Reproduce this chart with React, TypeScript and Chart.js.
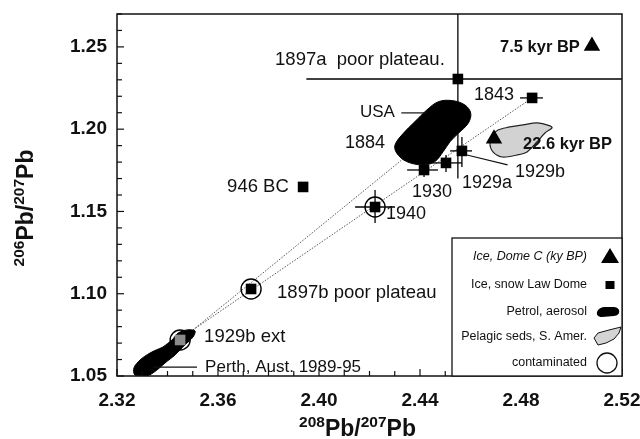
import React, { useEffect, useRef } from "react";
import { Chart, registerables } from "chart.js";

Chart.register(...registerables);

// ---------- axis ----------
const xMin = 2.32;
const xMax = 2.52;
const yMin = 1.05;
const yMax = 1.27;
const tickStep = 0.01;

// ---------- Ice, snow Law Dome (squares) ----------
const lawDomeNames = ["1897a", "1843", "1929b", "1929a", "1930", "946 BC", "1940", "1897b", "1929b ext"];
const lawDomeX = [2.455, 2.4844, 2.4566, 2.4503, 2.4416, 2.3937, 2.4222, 2.3731, 2.345];
const lawDomeY = [1.2305, 1.219, 1.1868, 1.1795, 1.1752, 1.1649, 1.1527, 1.1029, 1.0719];
const lawDomeContaminated = [false, false, false, false, false, false, true, true, true];
const lawDomeXLow = [2.395, 2.4796, 2.4519, 2.4448, 2.4349, null, 2.4143, null, null];
const lawDomeXHigh = [2.52, 2.4887, 2.4606, 2.4566, 2.4471, null, 2.4301, null, null];
const lawDomeYLow = [1.17, null, 1.177, 1.174, 1.171, null, 1.143, null, null];
const lawDomeYHigh = [1.27, null, 1.1953, 1.1843, 1.1795, null, 1.1631, null, null];

// ---------- Ice, Dome C (triangles) ----------
const domeCNames = ["7.5 kyr BP", "22.6 kyr BP"];
const domeCX = [2.5081, 2.4693];
const domeCY = [1.2506, 1.1942];

// ---------- Petrol, aerosol (USA field) ----------
const usaX = [2.438, 2.4427, 2.4473, 2.4526, 2.4578, 2.4601, 2.4591, 2.4552, 2.4519, 2.4492, 2.4459, 2.4413, 2.4347, 2.4308, 2.4301, 2.4334, 2.438];
const usaY = [1.2046, 1.2117, 1.2167, 1.2174, 1.2147, 1.2097, 1.2036, 1.1975, 1.1924, 1.1864, 1.1803, 1.1783, 1.1803, 1.1854, 1.1904, 1.1975, 1.2046];

// ---------- Petrol, aerosol (Perth field) ----------
const perthX = [2.3382, 2.3331, 2.3291, 2.3267, 2.3271, 2.3319, 2.3358, 2.339, 2.343, 2.3469, 2.3501, 2.3509, 2.3477, 2.3442, 2.3418, 2.3382];
const perthY = [1.0676, 1.064, 1.0597, 1.0549, 1.0506, 1.05, 1.0536, 1.0579, 1.0628, 1.0689, 1.0737, 1.0774, 1.078, 1.0761, 1.0719, 1.0676];

// ---------- Pelagic seds, S. Amer. ----------
const pelagicX = [2.4756, 2.4808, 2.4863, 2.4915, 2.4923, 2.4895, 2.4863, 2.4824, 2.4784, 2.4725, 2.4689, 2.4677, 2.4689, 2.4709, 2.4756];
const pelagicY = [1.2014, 1.2026, 1.2038, 1.202, 1.2008, 1.1977, 1.1922, 1.1862, 1.1843, 1.1831, 1.1862, 1.1916, 1.1965, 1.1995, 1.2014];

// ---------- mixing lines ----------
const mixLineAX = [2.3501, 2.4844];
const mixLineAY = [1.078, 1.219];
const mixLineBX = [2.3501, 2.4459];
const mixLineBY = [1.078, 1.1977];

// ---------- legend ----------
const legendLabels = ["Ice, Dome C (ky BP)", "Ice, snow Law Dome", "Petrol, aerosol", "Pelagic seds, S. Amer.", "contaminated"];

const FONT = "'Liberation Sans', Arial, Helvetica, sans-serif";

// annotation labels (anchored in data coordinates: left edge, vertical middle)
const annotations = [
  { text: "1897a  poor plateau.", x: 2.3826, y: 1.2421, size: 18.5, bold: false },
  { text: "7.5 kyr BP", x: 2.4717, y: 1.2497, size: 16.5, bold: true },
  { text: "1843", x: 2.4614, y: 1.2208, size: 18, bold: false },
  { text: "USA", x: 2.4162, y: 1.2105, size: 17, bold: false },
  { text: "1884", x: 2.4103, y: 1.1916, size: 18, bold: false },
  { text: "22.6 kyr BP", x: 2.4808, y: 1.191, size: 16.5, bold: true },
  { text: "1929b", x: 2.4776, y: 1.174, size: 18, bold: false },
  { text: "1929a", x: 2.4566, y: 1.1673, size: 18, bold: false },
  { text: "1930", x: 2.4368, y: 1.1619, size: 18, bold: false },
  { text: "946 BC", x: 2.3636, y: 1.1649, size: 18.5, bold: false },
  { text: "1940", x: 2.4265, y: 1.1485, size: 18, bold: false },
  { text: "1897b poor plateau", x: 2.3834, y: 1.1005, size: 18.5, bold: false },
  { text: "1929b ext", x: 2.3545, y: 1.0737, size: 18.5, bold: false },
  { text: "Perth, Aust. 1989-95", x: 2.3549, y: 1.0555, size: 17, bold: false },
];
const leaders = [
  { x1: 2.4326, y1: 1.2099, x2: 2.4425, y2: 1.2099 },
  { x1: 2.4586, y1: 1.1843, x2: 2.4747, y2: 1.1783 },
  { x1: 2.3343, y1: 1.0554, x2: 2.3517, y2: 1.0554 },
];

const pts = (xs: number[], ys: number[]) => xs.map((x, i) => ({ x, y: ys[i] }));

const framePlugin = {
  id: "frameTicks",
  afterDraw(chart: any) {
    const ctx = chart.ctx;
    const a = chart.chartArea;
    ctx.save();
    ctx.strokeStyle = "#111";
    ctx.lineWidth = 1.5;
    ctx.strokeRect(a.left, a.top, a.right - a.left, a.bottom - a.top);
    ctx.lineWidth = 1.2;
    const xs = chart.scales.x;
    xs.ticks.forEach((t: any) => {
      const major = Math.round(t.value * 100) % 4 === 0;
      const p = xs.getPixelForValue(t.value);
      ctx.beginPath();
      ctx.moveTo(p, a.bottom);
      ctx.lineTo(p, a.bottom - (major ? 7 : 5));
      ctx.stroke();
    });
    const ys = chart.scales.y;
    ys.ticks.forEach((t: any) => {
      const major = Math.round(t.value * 100) % 5 === 0;
      const p = ys.getPixelForValue(t.value);
      ctx.beginPath();
      ctx.moveTo(a.left, p);
      ctx.lineTo(a.left + (major ? 7 : 5), p);
      ctx.stroke();
    });
    ctx.restore();
  },
};

const errorBarPlugin = {
  id: "errorBars",
  afterDatasetsDraw(chart: any) {
    const ctx = chart.ctx;
    const a = chart.chartArea;
    const xs = chart.scales.x;
    const ys = chart.scales.y;
    ctx.save();
    ctx.beginPath();
    ctx.rect(a.left, a.top, a.right - a.left, a.bottom - a.top);
    ctx.clip();
    ctx.strokeStyle = "#000";
    ctx.lineWidth = 1.3;
    lawDomeX.forEach((x, i) => {
      const px = xs.getPixelForValue(x);
      const py = ys.getPixelForValue(lawDomeY[i]);
      const xl = lawDomeXLow[i];
      const xh = lawDomeXHigh[i];
      const yl = lawDomeYLow[i];
      const yh = lawDomeYHigh[i];
      if (xl !== null && xh !== null) {
        ctx.beginPath();
        ctx.moveTo(xs.getPixelForValue(xl), py);
        ctx.lineTo(xs.getPixelForValue(xh), py);
        ctx.stroke();
      }
      if (yl !== null && yh !== null) {
        ctx.beginPath();
        ctx.moveTo(px, ys.getPixelForValue(yl));
        ctx.lineTo(px, ys.getPixelForValue(yh));
        ctx.stroke();
      }
    });
    ctx.restore();
  },
};

const annotationPlugin = {
  id: "annotations",
  afterDraw(chart: any) {
    const ctx = chart.ctx;
    const xs = chart.scales.x;
    const ys = chart.scales.y;
    ctx.save();
    ctx.fillStyle = "#111";
    ctx.textAlign = "left";
    ctx.textBaseline = "middle";
    annotations.forEach((an) => {
      ctx.font = `${an.bold ? "bold " : ""}${an.size}px ${FONT}`;
      ctx.fillText(an.text, xs.getPixelForValue(an.x), ys.getPixelForValue(an.y));
    });
    ctx.strokeStyle = "#111";
    ctx.lineWidth = 1.2;
    leaders.forEach((l) => {
      ctx.beginPath();
      ctx.moveTo(xs.getPixelForValue(l.x1), ys.getPixelForValue(l.y1));
      ctx.lineTo(xs.getPixelForValue(l.x2), ys.getPixelForValue(l.y2));
      ctx.stroke();
    });
    ctx.restore();
  },
};

const legendPlugin = {
  id: "legendBox",
  afterDraw(chart: any) {
    const ctx = chart.ctx;
    const a = chart.chartArea;
    const boxL = a.right - 170;
    const boxT = a.bottom - 138;
    ctx.save();
    ctx.fillStyle = "#fff";
    ctx.fillRect(boxL, boxT, a.right - boxL, a.bottom - boxT);
    ctx.strokeStyle = "#111";
    ctx.lineWidth = 1.3;
    ctx.strokeRect(boxL, boxT, a.right - boxL, a.bottom - boxT);
    const rows = [19, 47, 74, 99, 125];
    const tx = a.right - 35;
    const sx = a.right - 12;
    ctx.fillStyle = "#111";
    ctx.textAlign = "right";
    ctx.textBaseline = "middle";
    legendLabels.forEach((lab, i) => {
      ctx.font = `${i === 0 ? "italic " : ""}12.5px ${FONT}`;
      ctx.fillText(lab, tx, boxT + rows[i]);
    });
    // triangle
    let cy = boxT + rows[0];
    ctx.fillStyle = "#000";
    ctx.beginPath();
    ctx.moveTo(sx, cy - 9);
    ctx.lineTo(sx + 9, cy + 6);
    ctx.lineTo(sx - 9, cy + 6);
    ctx.closePath();
    ctx.fill();
    // square
    cy = boxT + rows[1];
    ctx.fillRect(sx - 4.5, cy - 4, 9, 8);
    // petrol blob
    cy = boxT + rows[2];
    ctx.beginPath();
    ctx.moveTo(sx - 8, cy + 5);
    ctx.bezierCurveTo(sx - 16, cy + 5, sx - 14, cy - 4, sx - 6, cy - 5);
    ctx.lineTo(sx + 4, cy - 5);
    ctx.bezierCurveTo(sx + 11, cy - 5, sx + 11, cy + 4, sx + 4, cy + 4);
    ctx.closePath();
    ctx.fill();
    // pelagic shape
    cy = boxT + rows[3];
    ctx.fillStyle = "#d4d4d4";
    ctx.beginPath();
    ctx.moveTo(sx - 16, cy + 1);
    ctx.lineTo(sx - 12, cy - 4);
    ctx.lineTo(sx - 1, cy - 7);
    ctx.lineTo(sx + 11, cy - 10);
    ctx.lineTo(sx + 9, cy - 4);
    ctx.lineTo(sx + 4, cy + 2);
    ctx.lineTo(sx - 4, cy + 6);
    ctx.lineTo(sx - 12, cy + 8);
    ctx.closePath();
    ctx.fill();
    ctx.lineWidth = 1;
    ctx.stroke();
    // circle
    cy = boxT + rows[4];
    ctx.lineWidth = 1.3;
    ctx.beginPath();
    ctx.arc(sx - 3, cy, 10, 0, Math.PI * 2);
    ctx.stroke();
    ctx.restore();
  },
};

type Part = { t: string; sup?: boolean };
const titleParts = (a: string, b: string): Part[] => [
  { t: a, sup: true },
  { t: "Pb" },
  { t: "/" },
  { t: b, sup: true },
  { t: "Pb" },
];

function drawRich(ctx: CanvasRenderingContext2D, parts: Part[]) {
  const mainFont = `bold 23px ${FONT}`;
  const supFont = `bold 15.5px ${FONT}`;
  let total = 0;
  const widths = parts.map((p) => {
    ctx.font = p.sup ? supFont : mainFont;
    const w = ctx.measureText(p.t).width;
    total += w;
    return w;
  });
  let x = -total / 2;
  ctx.textAlign = "left";
  ctx.textBaseline = "alphabetic";
  parts.forEach((p, i) => {
    ctx.font = p.sup ? supFont : mainFont;
    ctx.fillText(p.t, x, p.sup ? -9 : 0);
    x += widths[i];
  });
}

const titlePlugin = {
  id: "axisTitles",
  afterDraw(chart: any) {
    const ctx = chart.ctx;
    const a = chart.chartArea;
    ctx.save();
    ctx.fillStyle = "#111";
    ctx.translate((a.left + a.right) / 2 - 12, chart.height - 3);
    drawRich(ctx, titleParts("208", "207"));
    ctx.restore();
    ctx.save();
    ctx.fillStyle = "#111";
    ctx.translate(33, (a.top + a.bottom) / 2 + 13);
    ctx.rotate(-Math.PI / 2);
    drawRich(ctx, titleParts("206", "207"));
    ctx.restore();
  },
};

export default function App() {
  const ref = useRef<HTMLCanvasElement | null>(null);
  useEffect(() => {
    if (!ref.current) return;
    const squares = pts(lawDomeX, lawDomeY);
    const circled = squares.filter((_, i) => lawDomeContaminated[i]);
    const squareColors = lawDomeNames.map((n) => (n === "1929b ext" ? "#8a8a8a" : "#000"));
    const tickFont = { family: FONT, size: 19, weight: "bold" as const };
    const chart = new Chart(ref.current, {
      type: "scatter",
      data: {
        datasets: [
          {
            label: "contaminated",
            data: circled,
            pointStyle: "circle",
            pointRadius: 10,
            pointBackgroundColor: "rgba(0,0,0,0)",
            pointBorderColor: "#000",
            pointBorderWidth: 1.4,
            order: 0,
          } as any,
          {
            label: "Ice, snow Law Dome",
            data: squares,
            pointStyle: "rect",
            pointRadius: 7.5,
            pointBackgroundColor: squareColors,
            pointBorderColor: squareColors,
            pointBorderWidth: 0,
            order: 1,
          },
          {
            label: "Ice, Dome C (ky BP)",
            data: pts(domeCX, domeCY),
            pointStyle: "triangle",
            pointRadius: 9.5,
            pointBackgroundColor: "#000",
            pointBorderColor: "#000",
            pointBorderWidth: 0,
            order: 2,
          },
          {
            label: "Petrol USA",
            type: "line",
            data: pts(usaX, usaY),
            showLine: true,
            fill: "shape",
            backgroundColor: "#000",
            borderColor: "#000",
            borderWidth: 1,
            tension: 0.35,
            pointRadius: 0,
            order: 3,
          } as any,
          {
            label: "Petrol Perth",
            type: "line",
            data: pts(perthX, perthY),
            showLine: true,
            fill: "shape",
            backgroundColor: "#000",
            borderColor: "#000",
            borderWidth: 1,
            tension: 0.3,
            pointRadius: 0,
            order: 3,
          } as any,
          {
            label: "Pelagic seds",
            type: "line",
            data: pts(pelagicX, pelagicY),
            showLine: true,
            fill: "shape",
            backgroundColor: "#d2d2d2",
            borderColor: "#222",
            borderWidth: 1.2,
            tension: 0.3,
            pointRadius: 0,
            order: 3,
          } as any,
          {
            label: "mix A",
            type: "line",
            data: pts(mixLineAX, mixLineAY),
            showLine: true,
            fill: false,
            borderColor: "#555",
            borderWidth: 1,
            borderDash: [1.5, 1.5],
            pointRadius: 0,
            order: 5,
          } as any,
          {
            label: "mix B",
            type: "line",
            data: pts(mixLineBX, mixLineBY),
            showLine: true,
            fill: false,
            borderColor: "#555",
            borderWidth: 1,
            borderDash: [1.5, 1.5],
            pointRadius: 0,
            order: 5,
          } as any,
        ],
      },
      options: {
        responsive: false,
        maintainAspectRatio: false,
        animation: false,
        events: [],
        layout: { padding: { top: 14, right: 18, left: 0, bottom: 0 } },
        plugins: { legend: { display: false }, tooltip: { enabled: false } },
        scales: {
          x: {
            type: "linear",
            min: xMin,
            max: xMax,
            grid: { display: false, drawTicks: false },
            border: { display: false },
            ticks: {
              stepSize: tickStep,
              autoSkip: false,
              maxRotation: 0,
              padding: 13,
              color: "#111",
              font: tickFont,
              callback: (v: any) => (Math.round(Number(v) * 100) % 4 === 0 ? Number(v).toFixed(2) : ""),
            },
            afterFit: (s: any) => {
              s.height = 63;
              s.paddingLeft = 0;
              s.paddingRight = 0;
            },
          },
          y: {
            type: "linear",
            min: yMin,
            max: yMax,
            grid: { display: false, drawTicks: false },
            border: { display: false },
            ticks: {
              stepSize: tickStep,
              autoSkip: false,
              padding: 10,
              color: "#111",
              font: tickFont,
              callback: (v: any) => (Math.round(Number(v) * 100) % 5 === 0 ? Number(v).toFixed(2) : ""),
            },
            afterFit: (s: any) => {
              s.width = 117;
              s.paddingTop = 0;
              s.paddingBottom = 0;
            },
          },
        },
      },
      plugins: [errorBarPlugin, framePlugin, annotationPlugin, legendPlugin, titlePlugin],
    });
    return () => chart.destroy();
  }, []);
  return (
    <div style={{ position: "absolute", left: 0, top: 0, width: 640, height: 439, background: "#fff" }}>
      <canvas ref={ref} width={640} height={439} style={{ width: 640, height: 439 }} />
    </div>
  );
}
